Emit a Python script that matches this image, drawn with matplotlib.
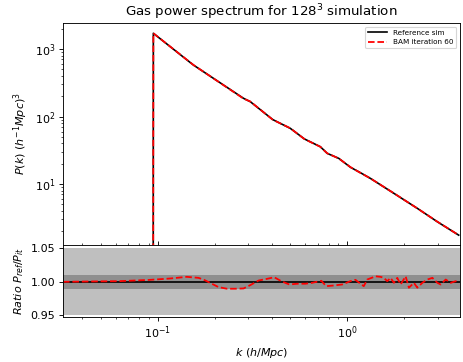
import numpy as np
import matplotlib
matplotlib.use('Agg')
import matplotlib.pyplot as plt

# Leistungsspektrum
k_ref = [0.0316, 0.0632, 0.0948, 0.1543, 0.2838, 0.308, 0.405, 0.501, 0.595,
         0.722, 0.784, 0.903, 1.041, 1.176, 1.328, 1.765, 2.345, 2.993, 3.88]
p_ref = [0.0, 0.0, 1710, 579, 186, 166, 90, 66.8, 46.5,
         35.7, 28.5, 24.0, 17.7, 14.7, 12.1, 7.28, 4.37, 2.76, 1.75]
p_bam = [0.0, 0.0, 1712, 581, 184, 167, 89.5, 67.1, 46.3,
         35.6, 28.6, 23.9, 17.8, 14.6, 12.1, 7.30, 4.36, 2.77, 1.75]

# Verhaeltnis P_ref / P_it
k_ratio = [0.0316, 0.0632, 0.0911, 0.116, 0.1423, 0.164, 0.1743, 0.193, 0.2094,
           0.2317, 0.2564, 0.2838, 0.3078, 0.3405, 0.3773, 0.4123, 0.4491,
           0.4951, 0.5436, 0.6017, 0.6529, 0.7311, 0.7741, 0.8566, 0.9409,
           1.041, 1.106, 1.129, 1.224, 1.276, 1.412, 1.501, 1.562, 1.628,
           1.695, 1.765, 1.839, 1.915, 2.035, 2.118, 2.251, 2.346, 2.494,
           2.651, 2.817, 2.994, 3.117, 3.313, 3.521, 3.741, 3.88]
ratio = [1.000, 1.001, 1.0029, 1.0049, 1.0074, 1.0059, 1.0034, 0.9971, 0.9921,
         0.9897, 0.9897, 0.9901, 0.995, 1.0019, 1.0044, 1.0068, 1.0009,
         0.996, 0.9971, 0.9971, 0.9985, 1.0015, 0.9935, 0.9946, 0.996,
         1.001, 1.003, 1.0009, 0.9935, 1.0034, 1.0082, 1.0074, 1.0059, 1.0009,
         1.0059, 0.9985, 1.0059, 0.996, 1.0082, 0.9912, 0.9985, 0.9912, 0.9985,
         1.0034, 1.0059, 0.9985, 0.996, 1.0034, 0.9985, 1.0009, 1.000]

fig = plt.figure(figsize=(463 / 80, 362 / 80), dpi=80)
ax1 = fig.add_axes([0.136, 0.3232, 0.857, 0.6133])
ax2 = fig.add_axes([0.136, 0.1243, 0.857, 0.1989], sharex=ax1)

ax1.set_xscale('log')
ax1.set_yscale('log')
ax1.plot(k_ref, p_ref, color='black', lw=1.5, label='Reference sim')
ax1.plot(k_ref, p_bam, color='red', lw=1.6, ls='--', label='BAM iteration 60')
ax1.set_xlim(0.0316, 3.93)
ax1.set_ylim(1.25, 2430)
ax1.set_ylabel(r'$P(k)\ (h^{-1}Mpc)^3$')
ax1.set_title(r'Gas power spectrum for $128^3$ simulation')
ax1.tick_params(axis='x', which='both', labelbottom=False)
ax1.legend(loc='upper right', fontsize=6.5, handlelength=2.6)

ax2.axhspan(0.95, 1.05, color='#bfbfbf', lw=0)
ax2.axhspan(0.99, 1.01, color='#8f8f8f', lw=0)
ax2.axhline(1.0, color='black', lw=1.5)
ax2.plot(k_ratio, ratio, color='red', lw=1.6, ls='--')
ax2.set_ylim(0.9475, 1.0549)
ax2.set_yticks([0.95, 1.00, 1.05])
ax2.set_yticklabels(['0.95', '1.00', '1.05'])
ax2.tick_params(axis='x', which='both', top=True)
ax2.set_xlabel(r'$k\ (h/Mpc)$')
ax2.set_ylabel(r'$Ratio\ P_{ref}/P_{it}$')

fig.savefig('out.png', dpi=80)
